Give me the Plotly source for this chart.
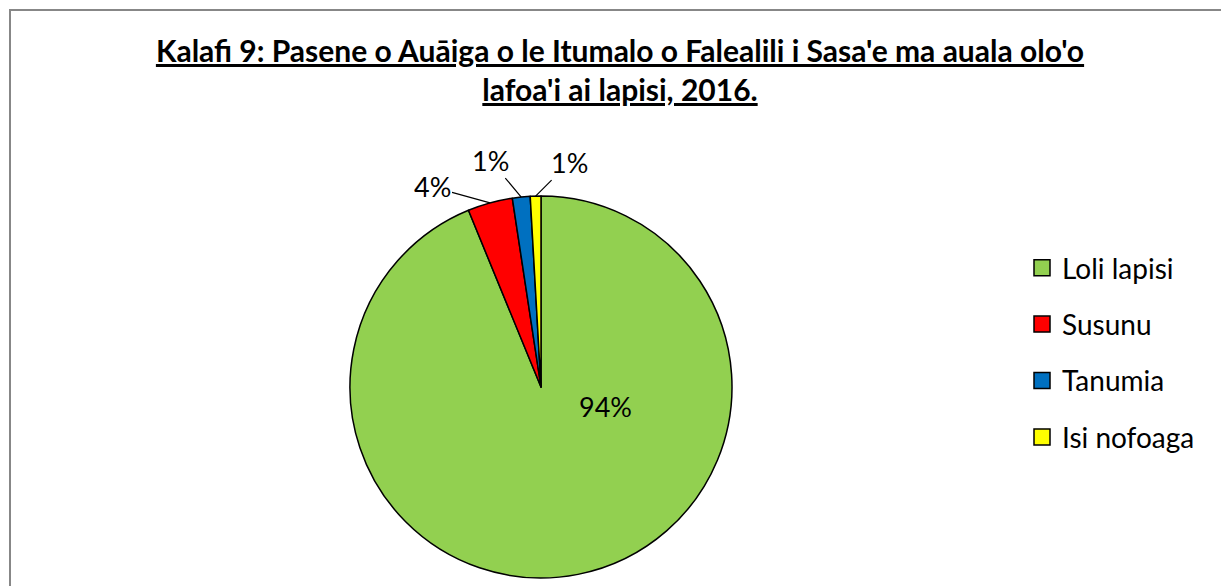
import math
import plotly.graph_objects as go

categories = ["Loli lapisi", "Susunu", "Tanumia", "Isi nofoaga"]
values = [93.8, 3.8, 1.5, 0.9]
labels_pct = ["94%", "4%", "1%", "1%"]
colors = ["#92D050", "#FF0000", "#0070C0", "#FFFF00"]

title_lines = ["Kalafi 9: Pasene o Auāiga o le Itumalo o Falealili i Sasa'e ma auala olo'o",
               "lafoa'i ai lapisi, 2016."]

W, H = 1229, 586
OFF = 8  # page body margin


def px(x):
    return (x - OFF) / W


def py(y):
    return 1 - (y - OFF) / H


cx, cy, r = 541, 387, 191

fig = go.Figure()
fig.add_trace(go.Pie(
    labels=categories, values=values, sort=False, direction="clockwise", rotation=0,
    marker=dict(colors=colors, line=dict(color="black", width=1.5)),
    textinfo="none", hoverinfo="label+percent", showlegend=False,
    domain=dict(x=[px(cx - r), px(cx + r)], y=[py(cy + r), py(cy - r)]),
))

# legend entries
for c, col in zip(categories, colors):
    fig.add_trace(go.Scatter(
        x=[None], y=[None], mode="markers", name=c, legendgroup=c,
        marker=dict(symbol="square", size=17, color=col, line=dict(color="black", width=1.5)),
    ))

# data labels computed from slice angles
total = sum(values)
cum = 0
offsets = [None, (-58, -16), (-31, -37), (34, -34)]
annotations = []
for i, v in enumerate(values):
    mid = (cum + v / 2) / total * 2 * math.pi
    cum += v
    if i == 0:
        annotations.append(dict(x=px(cx + 64), y=py(cy + 38), xref="paper", yref="paper",
                                text=labels_pct[i], showarrow=False,
                                font=dict(family="Lato", size=27, color="black")))
        continue
    ex = cx + r * math.sin(mid)
    ey = cy - r * math.cos(mid)
    ax, ay = offsets[i]
    annotations.append(dict(x=px(ex), y=py(ey), xref="paper", yref="paper",
                            text=labels_pct[i], showarrow=True, arrowhead=0, arrowwidth=1.2,
                            arrowcolor="black", ax=ax, ay=ay,
                            font=dict(family="Lato", size=27, color="black")))

title_html = "<br>".join("<b><u>" + t + "</u></b>" for t in title_lines)

fig.update_layout(
    width=W, height=H, margin=dict(l=0, r=0, t=0, b=0),
    paper_bgcolor="white", plot_bgcolor="white",
    title=dict(text=title_html, x=px(620), xanchor="center", y=py(62), yanchor="top",
               font=dict(family="Lato", size=30, color="black")),
    xaxis=dict(visible=False), yaxis=dict(visible=False),
    legend=dict(x=px(1022), xanchor="left", y=py(243), yanchor="top",
                font=dict(family="Lato", size=28, color="black"),
                tracegroupgap=17, bgcolor="rgba(0,0,0,0)"),
    annotations=annotations,
    shapes=[dict(type="rect", xref="paper", yref="paper", x0=px(10), y0=-0.05, x1=1.05, y1=py(10),
                 line=dict(color="#878787", width=2), fillcolor="rgba(0,0,0,0)", layer="below")],
)

fig.write_html("out.html")
